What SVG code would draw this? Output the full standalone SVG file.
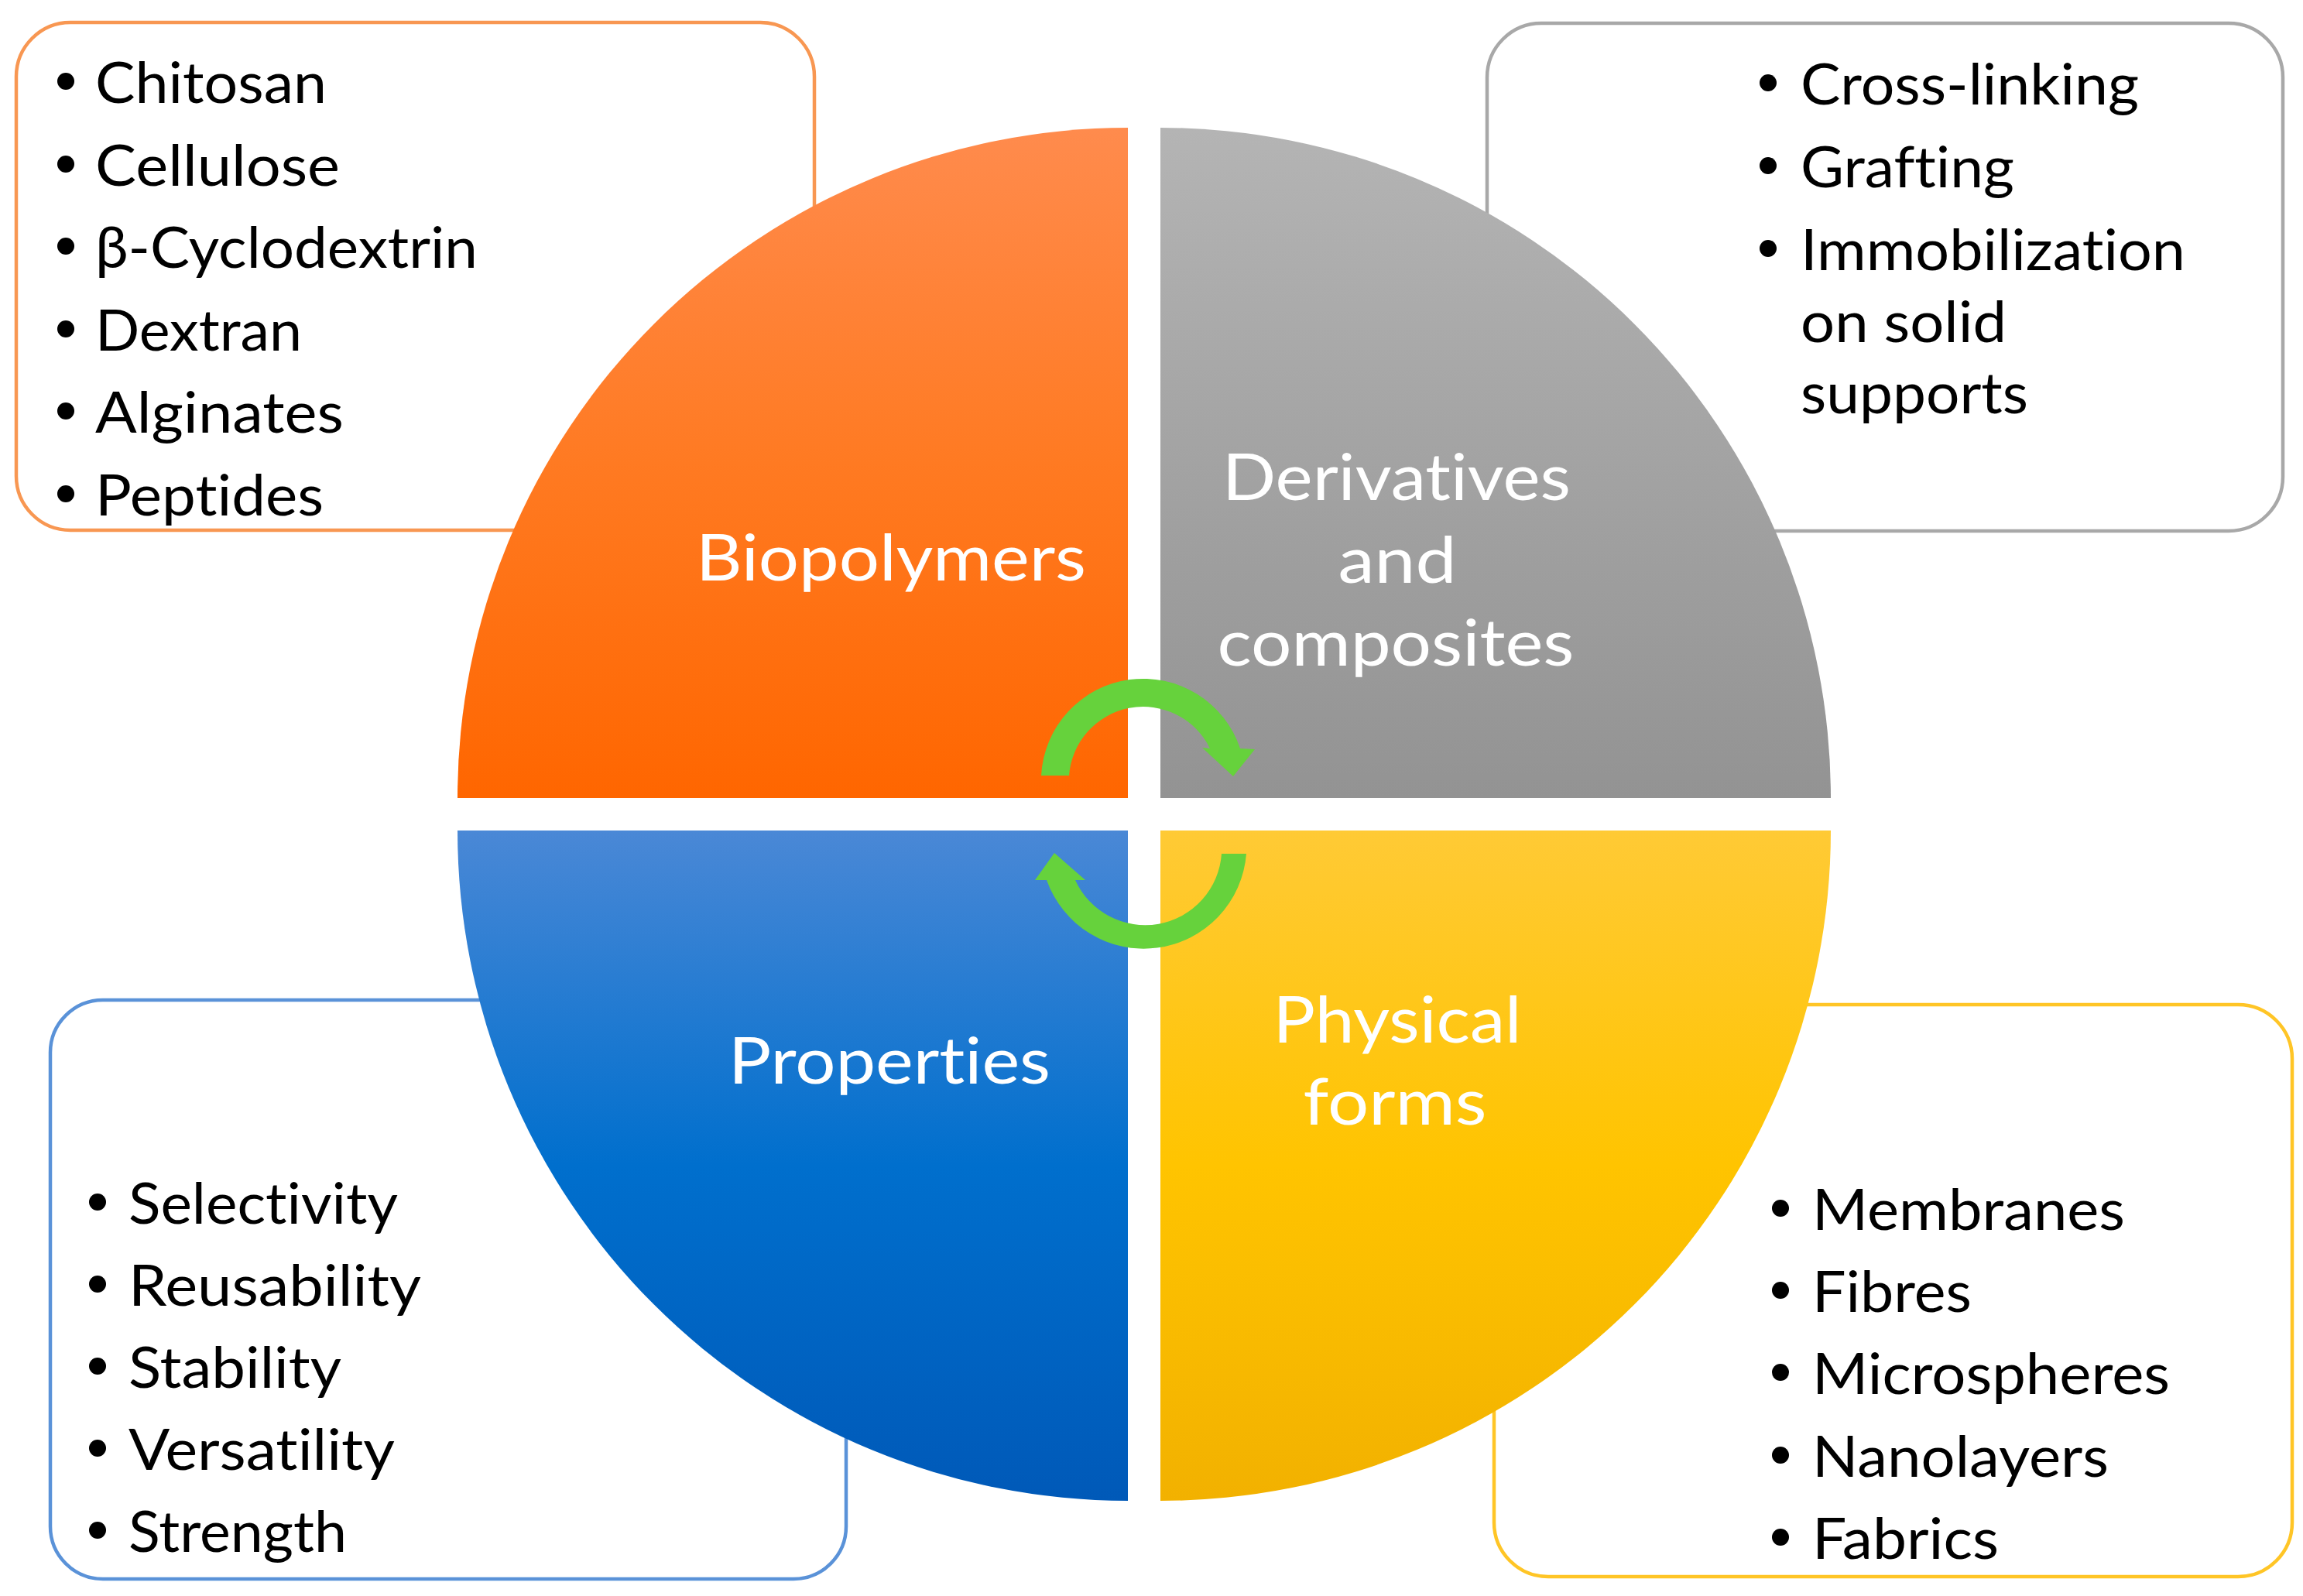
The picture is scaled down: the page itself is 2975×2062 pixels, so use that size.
<svg xmlns="http://www.w3.org/2000/svg" width="2975" height="2062" viewBox="0 0 2975 2062">
<defs>
<linearGradient id="gOrange" x1="0" y1="0" x2="0" y2="1"><stop offset="0" stop-color="#FF8B4D"/><stop offset="0.5" stop-color="#FF7A22"/><stop offset="1" stop-color="#FF6600"/></linearGradient>
<linearGradient id="gGray" x1="0" y1="0" x2="0" y2="1"><stop offset="0" stop-color="#B4B4B4"/><stop offset="0.5" stop-color="#A3A3A3"/><stop offset="1" stop-color="#939393"/></linearGradient>
<linearGradient id="gBlue" x1="0" y1="0" x2="0" y2="1"><stop offset="0" stop-color="#4A88D6"/><stop offset="0.5" stop-color="#006FCD"/><stop offset="1" stop-color="#0059B8"/></linearGradient>
<linearGradient id="gYellow" x1="0" y1="0" x2="0" y2="1"><stop offset="0" stop-color="#FFCA35"/><stop offset="0.5" stop-color="#FFC400"/><stop offset="1" stop-color="#F2B100"/></linearGradient>
</defs>
<style>
.box{fill:#FFFFFF;stroke-width:4.5}
.list{font-family:Lato,"Open Sans","Noto Sans",sans-serif;font-size:74px;fill:#000000;font-variant-ligatures:none}
.lbl{font-family:Lato,"Open Sans","Noto Sans",sans-serif;font-size:84px;fill:#FFFFFF;text-anchor:middle;font-variant-ligatures:none}
.bul{fill:#000000}
.arrow{fill:#66D23C}
</style>
<rect width="2975" height="2062" fill="#FFFFFF"/>

<g id="box-biopolymers">
<rect class="box" x="21" y="29" width="1031" height="656" rx="70" stroke="#F89752"/>
<circle class="bul" cx="85" cy="105" r="11"/><text class="list" x="123" y="133" textLength="299" lengthAdjust="spacingAndGlyphs">Chitosan</text>
<circle class="bul" cx="85" cy="212" r="11"/><text class="list" x="123" y="240" textLength="316" lengthAdjust="spacingAndGlyphs">Cellulose</text>
<circle class="bul" cx="85" cy="318" r="11"/><text class="list" x="123" y="346" textLength="494" lengthAdjust="spacingAndGlyphs">β-Cyclodextrin</text>
<circle class="bul" cx="85" cy="425" r="11"/><text class="list" x="123" y="453" textLength="267" lengthAdjust="spacingAndGlyphs">Dextran</text>
<circle class="bul" cx="85" cy="531" r="11"/><text class="list" x="123" y="559" textLength="321" lengthAdjust="spacingAndGlyphs">Alginates</text>
<circle class="bul" cx="85" cy="638" r="11"/><text class="list" x="123" y="666" textLength="295" lengthAdjust="spacingAndGlyphs">Peptides</text>
</g>

<g id="box-derivatives">
<rect class="box" x="1921" y="30" width="1028" height="656" rx="70" stroke="#A8A8A8"/>
<circle class="bul" cx="2284" cy="107" r="11"/><text class="list" x="2326" y="135" textLength="437" lengthAdjust="spacingAndGlyphs">Cross-linking</text>
<circle class="bul" cx="2284" cy="214" r="11"/><text class="list" x="2326" y="242" textLength="276" lengthAdjust="spacingAndGlyphs">Grafting</text>
<circle class="bul" cx="2284" cy="321" r="11"/><text class="list" x="2326" y="349" textLength="497" lengthAdjust="spacingAndGlyphs">Immobilization</text>
<text class="list" x="2326" y="442" textLength="266" lengthAdjust="spacingAndGlyphs">on solid</text>
<text class="list" x="2326" y="534" textLength="294" lengthAdjust="spacingAndGlyphs">supports</text>
</g>

<g id="box-properties">
<rect class="box" x="65" y="1292" width="1028" height="748" rx="68" stroke="#5A92D8"/>
<circle class="bul" cx="126" cy="1553" r="11"/><text class="list" x="166" y="1581" textLength="348" lengthAdjust="spacingAndGlyphs">Selectivity</text>
<circle class="bul" cx="126" cy="1659" r="11"/><text class="list" x="166" y="1687" textLength="378" lengthAdjust="spacingAndGlyphs">Reusability</text>
<circle class="bul" cx="126" cy="1765" r="11"/><text class="list" x="166" y="1793" textLength="275" lengthAdjust="spacingAndGlyphs">Stability</text>
<circle class="bul" cx="126" cy="1871" r="11"/><text class="list" x="166" y="1899" textLength="344" lengthAdjust="spacingAndGlyphs">Versatility</text>
<circle class="bul" cx="126" cy="1977" r="11"/><text class="list" x="166" y="2005" textLength="282" lengthAdjust="spacingAndGlyphs">Strength</text>
</g>

<g id="box-physical-forms">
<rect class="box" x="1930" y="1298" width="1031" height="739" rx="70" stroke="#FFC526"/>
<circle class="bul" cx="2300" cy="1561" r="11"/><text class="list" x="2341" y="1589" textLength="404" lengthAdjust="spacingAndGlyphs">Membranes</text>
<circle class="bul" cx="2300" cy="1667" r="11"/><text class="list" x="2341" y="1695" textLength="206" lengthAdjust="spacingAndGlyphs">Fibres</text>
<circle class="bul" cx="2300" cy="1773" r="11"/><text class="list" x="2341" y="1801" textLength="462" lengthAdjust="spacingAndGlyphs">Microspheres</text>
<circle class="bul" cx="2300" cy="1880" r="11"/><text class="list" x="2341" y="1908" textLength="383" lengthAdjust="spacingAndGlyphs">Nanolayers</text>
<circle class="bul" cx="2300" cy="1986" r="11"/><text class="list" x="2341" y="2014" textLength="241" lengthAdjust="spacingAndGlyphs">Fabrics</text>
</g>

<g id="node-biopolymers">
<path d="M1457,1031 L591,1031 A866,866 0 0 1 1457,165 Z" fill="url(#gOrange)"/>
<text class="lbl" x="1151" y="750" textLength="504" lengthAdjust="spacingAndGlyphs">Biopolymers</text>
</g>

<g id="node-derivatives">
<path d="M1499,1031 L1499,165 A866,866 0 0 1 2365,1031 Z" fill="url(#gGray)"/>
<text class="lbl" x="1804" y="646" textLength="450" lengthAdjust="spacingAndGlyphs">Derivatives</text>
<text class="lbl" x="1805" y="753" textLength="153" lengthAdjust="spacingAndGlyphs">and</text>
<text class="lbl" x="1803" y="860" textLength="461" lengthAdjust="spacingAndGlyphs">composites</text>
</g>

<g id="node-physical-forms">
<path d="M1499,1073 L2365,1073 A866,866 0 0 1 1499,1939 Z" fill="url(#gYellow)"/>
<text class="lbl" x="1805" y="1347" textLength="321" lengthAdjust="spacingAndGlyphs">Physical</text>
<text class="lbl" x="1802" y="1453" textLength="237" lengthAdjust="spacingAndGlyphs">forms</text>
</g>

<g id="node-properties">
<path d="M1457,1073 L1457,1939 A866,866 0 0 1 591,1073 Z" fill="url(#gBlue)"/>
<text class="lbl" x="1149" y="1400" textLength="416" lengthAdjust="spacingAndGlyphs">Properties</text>
</g>

<g id="connectors">
<path class="arrow" d="M1345,1002 A132,132 0 0 1 1602,967 L1621,968 L1593,1003 L1553,966 L1563,967 A96,96 0 0 0 1381,1002 Z"/>
<path class="arrow" d="M1610,1103 A133,133 0 0 1 1352,1137 L1337,1137 L1362,1102 L1402,1137 L1389,1137 A99,99 0 0 0 1578,1103 Z"/>
</g>
</svg>
